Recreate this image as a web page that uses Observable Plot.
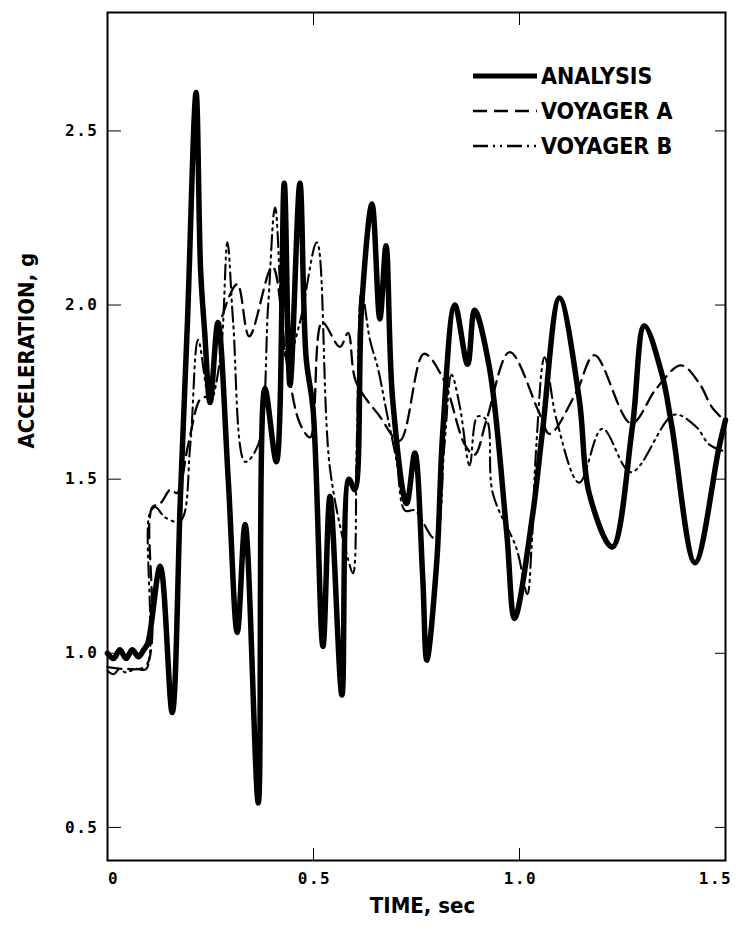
<!DOCTYPE html>
<html><head><meta charset="utf-8">
<script src="https://cdn.jsdelivr.net/npm/d3@7"></script>
<script src="https://cdn.jsdelivr.net/npm/@observablehq/plot@0.6"></script>
<style>
body{margin:0;background:#fff;}
#wrap{position:relative;width:736px;height:930px;}
#legend{position:absolute;left:472px;top:58px;font-family:"Liberation Sans Narrow","DejaVu Sans Condensed","Roboto",sans-serif;font-weight:bold;font-size:23px;color:#000;}
#legend .row{display:flex;align-items:center;height:35px;}
#legend svg{margin-right:3px;}
#chart g[aria-label="x-axis tick label"] text,
#chart g[aria-label="y-axis tick label"] text{font-weight:bold;letter-spacing:1.5px;}
</style></head><body>
<div id="wrap"><div id="chart"></div><div id="legend"></div></div>
<script>
// ---- data ----
const seriesNames = ["ANALYSIS", "VOYAGER A", "VOYAGER B"];

const timeAnalysis = [0, 0.015, 0.03, 0.045, 0.06, 0.075, 0.088, 0.098, 0.128, 0.157,
  0.177, 0.194, 0.215, 0.226, 0.236, 0.249, 0.268, 0.293, 0.315, 0.334,
  0.366, 0.382, 0.41, 0.429, 0.443, 0.467, 0.482, 0.499, 0.523, 0.54,
  0.569, 0.586, 0.6, 0.617, 0.642, 0.661, 0.676, 0.692, 0.726, 0.746,
  0.765, 0.775, 0.799, 0.814, 0.843, 0.874, 0.891, 0.927, 0.969, 0.988,
  1.031, 1.056, 1.097, 1.145, 1.169, 1.225, 1.274, 1.303, 1.346, 1.37,
  1.426, 1.484, 1.5];
const accAnalysis = [1.0, 0.985, 1.01, 0.985, 1.01, 0.99, 1.01, 1.03, 1.25, 0.83,
  1.45, 1.95, 2.61, 2.1, 1.92, 1.72, 1.95, 1.5, 1.06, 1.37,
  0.57, 1.76, 1.55, 2.35, 1.77, 2.35, 1.85, 1.7, 1.02, 1.45,
  0.88, 1.5, 1.47, 2.0, 2.29, 1.96, 2.17, 1.73, 1.43, 1.575,
  1.22, 0.98, 1.26, 1.64, 2.0, 1.83, 1.985, 1.82, 1.345, 1.1,
  1.39, 1.64, 2.02, 1.73, 1.46, 1.305, 1.65, 1.94, 1.8, 1.65,
  1.26, 1.59, 1.67];

const timeVoyagerA = [0, 0.044, 0.094, 0.102, 0.109, 0.128, 0.153, 0.169, 0.196, 0.225,
  0.242, 0.269, 0.315, 0.344, 0.4, 0.436, 0.467, 0.492, 0.521, 0.564,
  0.584, 0.603, 0.661, 0.709, 0.768, 0.814, 0.867, 0.891, 0.92, 0.976,
  1.048, 1.073, 1.138, 1.182, 1.271, 1.332, 1.392, 1.436, 1.467, 1.496];
const accVoyagerA = [0.96, 0.955, 0.965, 1.38, 1.42, 1.43, 1.47, 1.46, 1.6, 1.73,
  1.74, 1.93, 2.06, 1.91, 2.11, 1.83, 1.66, 1.62, 1.95, 1.88,
  1.92, 1.78, 1.68, 1.61, 1.86, 1.79, 1.6, 1.57, 1.67, 1.865,
  1.69, 1.63, 1.75, 1.856, 1.66, 1.76, 1.827, 1.776, 1.707, 1.67];

const timeVoyagerB = [0, 0.015, 0.029, 0.044, 0.068, 0.094, 0.102, 0.116, 0.14, 0.177,
  0.201, 0.22, 0.249, 0.274, 0.291, 0.305, 0.334, 0.366, 0.39, 0.407,
  0.436, 0.467, 0.508, 0.54, 0.584, 0.596, 0.605, 0.617, 0.637, 0.656,
  0.678, 0.702, 0.722, 0.746, 0.794, 0.818, 0.835, 0.855, 0.879, 0.898,
  0.92, 0.935, 0.993, 1.019, 1.029, 1.041, 1.061, 1.09, 1.145, 1.201,
  1.271, 1.375, 1.429, 1.46, 1.496];
const accVoyagerB = [0.95, 0.94, 0.955, 0.945, 0.955, 0.955, 1.4, 1.42, 1.39, 1.38,
  1.6, 1.9, 1.72, 1.85, 2.18, 1.95, 1.55, 1.6, 2.0, 2.28,
  1.84, 1.95, 2.18, 1.53, 1.27, 1.23, 1.6, 2.04, 1.9, 1.82,
  1.69, 1.55, 1.41, 1.41, 1.33, 1.6, 1.8, 1.71, 1.54, 1.68,
  1.67, 1.46, 1.3, 1.17, 1.3, 1.6, 1.85, 1.67, 1.49, 1.645,
  1.52, 1.685, 1.65, 1.6, 1.58];

const xTicks = [0, 0.5, 1.0, 1.5];
const xTickLabels = ["0", "0.5", "1.0", "1.5"];
const yTicks = [0.5, 1.0, 1.5, 2.0, 2.5];
const yTickLabels = ["0.5", "1.0", "1.5", "2.0", "2.5"];
const xLabel = "TIME, sec";
const yLabel = "ACCELERATION, g";

// ---- build tables ----
const toRows = (ts, as) => ts.map((t, i) => ({t, a: as[i]}));
const rowsAnalysis = toRows(timeAnalysis, accAnalysis);
const rowsA = toRows(timeVoyagerA, accVoyagerA);
const rowsB = toRows(timeVoyagerB, accVoyagerB);

const styles = [
  {strokeWidth: 5.5, legendWidth: 5, dash: null},
  {strokeWidth: 2.3, legendWidth: 2.5, dash: "14,7"},
  {strokeWidth: 2.1, legendWidth: 2.5, dash: "15,5,2,5,2,5"}
];

const labelFont = '"Liberation Sans Narrow","DejaVu Sans Condensed",Roboto,sans-serif';
const fmtX = d => xTickLabels[xTicks.indexOf(d)];
const fmtY = d => yTickLabels[yTicks.indexOf(d)];

const chart = Plot.plot({
  width: 736,
  height: 930,
  marginLeft: 107,
  marginRight: 11,
  marginTop: 12,
  marginBottom: 70,
  style: {fontFamily: '"DejaVu Sans Mono", monospace', fontSize: "16px", color: "#000", background: "#fff"},
  x: {domain: [0, 1.5]},
  y: {domain: [0.405, 2.84]},
  marks: [
    Plot.frame({stroke: "#000", strokeWidth: 2}),
    // tick labels
    Plot.axisX([0], {tickSize: 0, tickPadding: 12, dx: 6, tickFormat: fmtX, label: null}),
    Plot.axisX([0.5, 1.0], {tickSize: 0, tickPadding: 12, dx: 1, tickFormat: fmtX, label: null}),
    Plot.axisX([1.5], {tickSize: 0, tickPadding: 12, dx: -10, tickFormat: fmtX, label: null}),
    Plot.axisY(yTicks, {tickSize: 0, tickPadding: 9, tickFormat: fmtY, label: null}),
    // inward ticks
    Plot.axisX(xTicks, {anchor: "bottom", tickSize: -12, fill: "none", label: null}),
    Plot.axisX(xTicks, {anchor: "top", tickSize: -12, fill: "none", label: null}),
    Plot.axisY(yTicks, {anchor: "left", tickSize: -14, fill: "none", label: null}),
    Plot.axisY(yTicks, {anchor: "right", tickSize: -11, fill: "none", label: null}),
    // axis titles
    Plot.text([xLabel], {frameAnchor: "bottom", dx: 6, dy: 52, text: d => d, fontFamily: labelFont, fontWeight: "bold", fontSize: 22}),
    Plot.text([yLabel], {frameAnchor: "left", dx: -81, dy: 12, rotate: -90, text: d => d, fontFamily: labelFont, fontWeight: "bold", fontSize: 22}),
    // series
    Plot.line(rowsB, {x: "t", y: "a", stroke: "#000", strokeWidth: styles[2].strokeWidth, strokeDasharray: styles[2].dash, curve: "catmull-rom"}),
    Plot.line(rowsA, {x: "t", y: "a", stroke: "#000", strokeWidth: styles[1].strokeWidth, strokeDasharray: styles[1].dash, curve: "catmull-rom"}),
    Plot.line(rowsAnalysis, {x: "t", y: "a", stroke: "#000", strokeWidth: styles[0].strokeWidth, strokeLinejoin: "round", curve: "catmull-rom"})
  ]
});
document.getElementById("chart").appendChild(chart);

// legend
const legend = d3.select("#legend");
seriesNames.forEach((name, i) => {
  const row = legend.append("div").attr("class", "row");
  const svg = row.append("svg").attr("width", 66).attr("height", 10);
  svg.append("line").attr("x1", 1).attr("x2", 65).attr("y1", 5).attr("y2", 5)
    .attr("stroke", "#000").attr("stroke-width", styles[i].legendWidth)
    .attr("stroke-dasharray", styles[i].dash);
  row.append("span").text(name);
});
</script>
</body></html>
